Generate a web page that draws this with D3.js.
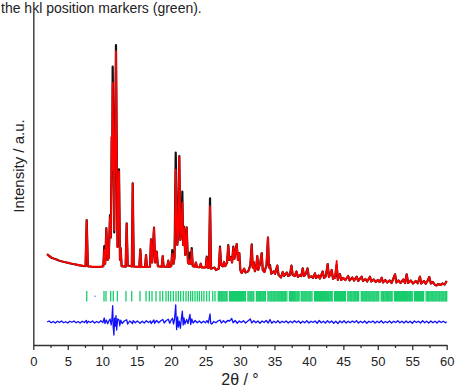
<!DOCTYPE html>
<html>
<head>
<meta charset="utf-8">
<script src="https://cdn.jsdelivr.net/npm/d3@7"></script>
<style>
  html, body { margin: 0; padding: 0; background: #fff; }
  svg { display: block; }
  text { font-family: "Liberation Sans", Arial, sans-serif; fill: #222; }
</style>
</head>
<body>
<svg id="chart" width="457" height="389"></svg>
<script>
// Powder pattern: [2θ, observed, calculated] intensity (counts)
const profile = [
  [2.0,2640,2620],[2.3,2560,2560],[2.7,2480,2490],[3.2,2440,2430],[3.7,2380,2380],
  [4.2,2340,2340],[4.8,2300,2300],[5.4,2260,2270],[6.0,2230,2230],[6.6,2190,2200],
  [7.2,2160,2170],[7.58,2150,2160],[7.75,4000,3980],[7.92,2150,2150],[8.5,2130,2130],
  [9.2,2120,2130],[9.8,2130,2130],[10.16,2150,2150],[10.3,2960,2800],[10.43,2250,2250],
  [10.6,3680,3650],[10.78,2400,2400],[10.95,2480,2480],[11.13,4200,4100],[11.26,3300,3300],
  [11.38,7320,7320],[11.45,6000,6000],[11.52,10132,9480],[11.75,3500,3600],[12.0,11000,10750],
  [12.22,2920,2920],[12.44,6028,5950],[12.58,2400,2400],[12.68,2880,2880],[12.82,2150,2150],
  [13.4,2130,2140],[13.55,3868,3850],[13.7,2180,2180],[14.3,2140,2140],[14.43,5468,5468],
  [14.58,2140,2140],[15.38,2120,2120],[15.53,2828,2828],[15.68,2120,2120],[16.22,2120,2120],
  [16.36,2600,2600],[16.5,2120,2120],[16.94,2130,2130],[17.08,3228,3228],[17.25,2300,2300],
  [17.52,3692,3692],[17.68,2300,2300],[17.91,2732,2732],[18.08,2150,2150],[18.64,2130,2130],
  [18.78,2560,2560],[18.92,2130,2130],[19.45,2130,2140],[19.59,2372,2372],[19.74,2120,2120],
  [20.02,2150,2150],[20.17,2800,2650],[20.35,2250,2250],[20.5,2500,2500],[20.67,6692,6010],
  [20.9,3000,3000],[21.05,3500,3500],[21.19,6560,6532],[21.35,3200,3200],[21.5,3600,3600],
  [21.63,5132,4700],[21.75,3000,3000],[21.87,3732,3700],[22.05,2600,2600],[22.26,3708,3700],
  [22.45,2300,2300],[22.6,2250,2250],[22.74,2700,2400],[22.87,2250,2250],[22.99,2880,2800],
  [23.15,2150,2150],[23.45,2130,2130],[23.6,2300,2300],[23.75,2120,2120],[24.15,2110,2110],
  [24.3,2250,2250],[24.45,2100,2100],[25.02,2100,2100],[25.17,2532,2500],[25.32,2090,2090],
  [25.5,2090,2090],[25.65,4868,4550],[25.8,2050,2050],[26.3,2100,2100],[26.5,2000,2000],
  [26.92,2050,2050],[27.1,2932,2900],[27.25,2200,2200],[27.5,2150,2150],[27.68,2320,2320],
  [27.85,2150,2150],[28.12,2300,2300],[28.3,3000,2960],[28.45,2400,2400],[28.7,2520,2500],
  [28.85,2300,2300],[29.03,2932,2900],[29.18,2450,2450],[29.3,2650,2650],[29.52,3040,3040],
  [29.7,2400,2400],[29.9,2680,2680],[30.05,2000,2000],[30.25,1880,1880],[30.6,2050,2050],
  [30.8,1900,1900],[31.2,1950,1950],[31.5,2200,2150],[31.7,3028,3000],[31.85,2100,2100],
  [32.0,2320,2320],[32.15,1950,1950],[32.35,2100,2100],[32.51,2560,2560],[32.65,2000,2000],
  [32.95,2300,2300],[33.15,2680,2680],[33.3,2000,2000],[33.55,1920,1920],[33.85,2200,2200],
  [34.06,3300,3300],[34.2,2100,2100],[34.35,2200,2150],[34.55,1850,1850],[34.9,1950,1950],
  [35.1,1850,1850],[35.41,2180,2180],[35.6,1800,1800],[35.95,1700,1700],[36.2,1920,1920],
  [36.4,1760,1760],[36.8,1900,1900],[37.0,1760,1760],[37.25,1800,1800],[37.47,2172,2172],
  [37.65,1800,1800],[37.95,1760,1760],[38.2,1940,1940],[38.4,1720,1720],[38.7,1800,1800],
  [38.9,1760,1760],[39.1,2068,2068],[39.3,1760,1760],[39.55,1850,1850],[39.8,2068,2068],
  [40.0,1700,1700],[40.4,1750,1750],[40.6,1680,1680],[40.88,1868,1868],[41.05,1680,1680],
  [41.4,1780,1780],[41.6,1660,1660],[42.0,1940,1940],[42.2,1680,1680],[42.45,1750,1750],
  [42.73,2240,2240],[42.9,1720,1720],[43.1,1800,1800],[43.31,2000,2000],[43.5,1650,1650],
  [43.8,1700,1700],[44.03,2200,2360],[44.2,1600,1600],[44.5,1840,1840],[44.7,1600,1600],
  [45.0,1680,1680],[45.3,1600,1600],[45.7,1760,1760],[45.9,1580,1580],[46.3,1700,1700],
  [46.55,1580,1580],[46.94,1732,1732],[47.15,1560,1560],[47.4,1650,1650],[47.66,1732,1732],
  [47.85,1560,1560],[48.2,1640,1640],[48.45,1540,1540],[48.87,1732,1732],[49.05,1540,1540],
  [49.4,1620,1620],[49.7,1520,1520],[50.0,1600,1600],[50.25,1520,1520],[50.57,1692,1692],
  [50.75,1500,1500],[51.1,1600,1600],[51.35,1500,1500],[51.7,1580,1580],[52.0,1480,1480],
  [52.5,1828,1828],[52.7,1500,1500],[53.0,1580,1580],[53.3,1480,1480],[53.7,1620,1620],
  [53.95,1480,1480],[54.19,1828,1828],[54.4,1480,1480],[54.8,1580,1580],[55.1,1460,1460],
  [55.5,1560,1560],[55.8,1470,1470],[56.12,1732,1732],[56.3,1460,1460],[56.7,1560,1560],
  [56.95,1450,1450],[57.2,1560,1560],[57.47,1720,1720],[57.7,1460,1460],[58.0,1520,1520],
  [58.3,1400,1400],[58.5,1380,1380],[58.8,1440,1440],[59.1,1400,1400],[59.4,1460,1460],
  [59.7,1420,1420],[60.0,1560,1560]
];

// Difference curve: [2θ, Iobs − Icalc]
const difference = [
  [2.0,0],[2.3,40],[2.6,-30],[2.9,20],[3.2,-40],[3.5,30],[3.8,-20],[4.1,40],[4.4,-30],[4.7,10],
  [5.0,-40],[5.3,30],[5.6,-10],[5.9,40],[6.2,-30],[6.5,20],[6.8,-40],[7.1,30],[7.4,-20],[7.7,60],
  [7.8,-50],[8.0,30],[8.3,-20],[8.6,40],[8.9,-40],[9.2,20],[9.5,-30],[9.8,50],[10.1,-20],[10.3,160],
  [10.4,-60],[10.6,80],[10.8,-70],[11.0,60],[11.15,120],[11.3,-120],[11.4,80],[11.52,650],[11.6,-200],[11.7,-520],
  [11.8,150],[11.9,-160],[12.0,250],[12.1,-320],[12.25,120],[12.45,80],[12.55,-150],[12.7,70],[12.9,-60],[13.2,40],
  [13.55,90],[13.7,-80],[14.0,40],[14.4,-60],[14.5,50],[14.8,-30],[15.1,40],[15.5,-50],[15.8,30],[16.1,-40],
  [16.4,50],[16.7,-20],[17.0,40],[17.1,-60],[17.5,80],[17.6,-50],[17.9,60],[18.2,-30],[18.5,50],[18.8,100],
  [19.0,-40],[19.3,60],[19.6,110],[19.8,-50],[20.0,70],[20.2,150],[20.35,-80],[20.5,120],[20.67,680],[20.8,-300],
  [20.95,200],[21.05,-200],[21.19,30],[21.35,-250],[21.5,150],[21.63,430],[21.75,-120],[21.87,160],[22.0,-80],[22.26,100],
  [22.45,-60],[22.74,300],[22.85,-100],[23.0,120],[23.2,-40],[23.5,60],[23.8,-30],[24.1,40],[24.4,-40],[24.7,30],
  [25.0,-30],[25.2,60],[25.4,-40],[25.65,320],[25.75,-60],[25.9,-80],[26.2,20],[26.5,-30],[26.8,40],[27.1,80],
  [27.3,-40],[27.6,50],[27.9,-30],[28.2,60],[28.5,40],[28.8,140],[29.0,-30],[29.3,60],[29.6,-50],[29.9,40],
  [30.2,-20],[30.5,50],[30.8,-40],[31.1,30],[31.5,120],[31.7,-40],[32.0,50],[32.3,-30],[32.6,40],[32.9,-50],
  [33.2,40],[33.5,-20],[33.8,60],[34.1,-40],[34.35,100],[34.6,-50],[34.9,30],[35.2,-30],[35.5,50],[35.8,-40],
  [36.1,30],[36.4,-20],[36.7,40],[37.0,-40],[37.3,30],[37.6,-30],[37.9,50],[38.2,-20],[38.5,40],[38.8,-50],
  [39.1,30],[39.4,-30],[39.7,50],[40.0,-40],[40.3,30],[40.6,-20],[40.9,40],[41.2,-50],[41.5,60],[41.8,-30],
  [42.1,30],[42.4,-40],[42.7,50],[43.0,-30],[43.3,40],[43.6,-50],[43.9,30],[44.2,-60],[44.5,40],[44.8,-30],
  [45.1,50],[45.4,-40],[45.7,30],[46.0,-30],[46.3,40],[46.6,-20],[46.9,50],[47.2,-40],[47.5,30],[47.8,-30],
  [48.1,40],[48.4,-50],[48.7,30],[49.0,-20],[49.3,40],[49.6,-40],[49.9,30],[50.2,-30],[50.5,50],[50.8,-40],
  [51.1,20],[51.4,-30],[51.7,40],[52.0,-40],[52.3,30],[52.6,-20],[52.9,50],[53.2,-30],[53.5,30],[53.8,-40],
  [54.1,40],[54.4,-30],[54.7,30],[55.0,-50],[55.3,40],[55.6,-20],[55.9,30],[56.2,-40],[56.5,50],[56.8,-30],
  [57.1,30],[57.4,-40],[57.7,40],[58.0,-30],[58.3,30],[58.6,-40],[58.9,40],[59.2,-20],[59.5,30],[59.8,-30],
  [60.0,10]
];

// Bragg reflection positions (2θ)
const reflections = [
  7.75, 10.26, 10.55, 11.23, 11.61, 12.2, 13.45, 14.28, 15.49, 16.36, 16.84, 17.23, 17.81,
  18.39, 18.78, 19.26, 19.6, 19.94, 20.32, 20.71, 21.05, 21.39, 21.77, 22.16, 22.5, 22.84,
  23.13, 23.47, 23.8, 24.1, 24.44, 24.77, 25.17, 25.54, 26.04, 26.37,
  26.85, 27.0, 27.12, 27.28, 27.42, 27.55, 27.7, 27.85, 28.0, 28.12, 28.5, 28.62, 28.78,
  28.92, 29.05, 29.2, 29.35, 29.5, 29.62, 29.78, 29.92, 30.05, 30.2, 30.35, 30.5, 30.62,
  30.78, 31.15, 31.3, 31.45, 31.58, 31.72, 31.88, 32.0, 32.38, 32.5, 32.65, 32.8, 32.95,
  33.08, 33.22, 33.38, 33.52, 33.68, 34.05, 34.2, 34.35, 34.5, 34.62, 34.78, 34.92, 35.05,
  35.2, 35.35, 35.5, 35.62, 35.78, 35.92, 36.05, 36.2, 36.35, 36.5, 36.62, 36.8, 37.18,
  37.32, 37.45, 37.6, 37.75, 37.88, 38.02, 38.15, 38.3, 38.45, 38.58, 38.88, 39.02, 39.15,
  39.3, 39.45, 39.58, 39.72, 39.88, 40.02, 40.15, 40.3, 40.45, 40.82, 40.95, 41.1, 41.25,
  41.4, 41.52, 41.68, 41.82, 41.95, 42.1, 42.25, 42.4, 42.52, 42.68, 42.82, 42.95, 43.1,
  43.25, 43.38, 43.72, 43.85, 44.0, 44.15, 44.3, 44.42, 44.58, 44.72, 44.88, 45.02, 45.15,
  45.3, 45.65, 45.8, 45.95, 46.08, 46.22, 46.38, 46.52, 46.65, 46.8, 46.95, 47.08, 47.22,
  47.6, 47.75, 47.88, 48.02, 48.18, 48.32, 48.45, 48.6, 48.75, 48.88, 49.02, 49.18, 49.32,
  49.45, 49.6, 49.75, 49.88, 50.02, 50.15, 50.5, 50.65, 50.8, 50.92, 51.08, 51.22, 51.38,
  51.52, 51.65, 51.8, 51.95, 52.08, 52.42, 52.58, 52.72, 52.85, 53.0, 53.15, 53.28, 53.42,
  53.58, 53.72, 53.85, 54.0, 54.15, 54.28, 54.42, 54.58, 54.72, 54.85, 55.0, 55.32, 55.48,
  55.62, 55.75, 55.9, 56.05, 56.2, 56.35, 56.5, 56.65, 57.02, 57.18, 57.32, 57.45, 57.6,
  57.75, 57.9, 58.02, 58.18, 58.32, 58.45, 58.6, 58.75, 58.9, 59.02, 59.18, 59.32, 59.45,
  59.6, 59.75, 59.88, 60.0
];
const weakReflections = [8.96];

const xMajorTicks = [0, 5, 10, 15, 20, 25, 30, 35, 40, 45, 50, 55, 60];
const xMinorTicks = [2.5, 7.5, 12.5, 17.5, 22.5, 27.5, 32.5, 37.5, 42.5, 47.5, 52.5, 57.5];

const captionText = "the hkl position markers (green).";
const xTitle = "2θ / °";
const yTitle = "Intensity / a.u.";

// Vertical placement of the difference curve and reflection markers (counts)
const diffOffset = -80;
const markerBand = [740, 1160];

const svg = d3.select("#chart");
const x = d3.scaleLinear().domain([0, 60]).range([33.3, 446.7]);
const y = d3.scaleLinear().domain([-1000, 12320]).range([345, 12]);

// Reflection markers
const markers = svg.append("g").attr("stroke", "#17cc6c").attr("stroke-width", 1.3);
markers.selectAll("line.refl").data(reflections).join("line")
  .attr("class", "refl")
  .attr("x1", d => x(d)).attr("x2", d => x(d))
  .attr("y1", y(markerBand[0])).attr("y2", y(markerBand[1]));
markers.selectAll("line.weak").data(weakReflections).join("line")
  .attr("class", "weak")
  .attr("stroke", "#9fb8e8").attr("stroke-width", 1.5)
  .attr("x1", d => x(d) - 1).attr("x2", d => x(d) + 1)
  .attr("y1", y((markerBand[0] + markerBand[1]) / 2))
  .attr("y2", y((markerBand[0] + markerBand[1]) / 2));

// Difference curve
const diffLine = d3.line().x(d => x(d[0])).y(d => y(d[1] + diffOffset));
svg.append("path").datum(difference)
  .attr("d", diffLine)
  .attr("fill", "none").attr("stroke", "#1010ff").attr("stroke-width", 1.3)
  .attr("stroke-linejoin", "round");

// Observed (black) under calculated (red)
const obsLine = d3.line().x(d => x(d[0])).y(d => y(d[1]));
const calcLine = d3.line().x(d => x(d[0])).y(d => y(d[2]));
svg.append("path").datum(profile)
  .attr("d", obsLine)
  .attr("fill", "none").attr("stroke", "#111").attr("stroke-width", 2.2)
  .attr("stroke-linejoin", "round");
svg.append("path").datum(profile)
  .attr("d", calcLine)
  .attr("fill", "none").attr("stroke", "#ff0000").attr("stroke-width", 1.8)
  .attr("stroke-linejoin", "round");

// Axes
const gx = svg.append("g").attr("transform", `translate(0,${y.range()[0]})`);
gx.call(d3.axisBottom(x).tickValues(xMinorTicks).tickFormat("").tickSize(3).tickSizeOuter(0));
gx.call(g => g.select(".domain").remove());
const gxMajor = svg.append("g").attr("transform", `translate(0,${y.range()[0]})`);
gxMajor.call(d3.axisBottom(x).tickValues(xMajorTicks).tickFormat(d3.format("d"))
  .tickSize(5).tickSizeOuter(0).tickPadding(7));
svg.selectAll(".tick line").attr("stroke", "#333").attr("stroke-width", 1.3);
gxMajor.select(".domain").attr("stroke", "#333").attr("stroke-width", 1.4);
gxMajor.selectAll("text").attr("font-size", 13).attr("fill", "#222")
  .attr("font-family", "'Liberation Sans', Arial, sans-serif");

const gy = svg.append("g").attr("transform", `translate(${x.range()[0]},0)`);
gy.call(d3.axisLeft(y).tickValues([]).tickSizeOuter(0));
gy.select(".domain").attr("stroke", "#333").attr("stroke-width", 1.4);

// Titles
svg.append("text").attr("x", 240).attr("y", 385)
  .attr("text-anchor", "middle").attr("font-size", 16).text(xTitle);
svg.append("text").attr("transform", "translate(24,166) rotate(-90)")
  .attr("text-anchor", "middle").attr("font-size", 15).text(yTitle);
svg.append("text").attr("x", 1).attr("y", 12.5)
  .attr("font-size", 14).text(captionText);
</script>
</body>
</html>
